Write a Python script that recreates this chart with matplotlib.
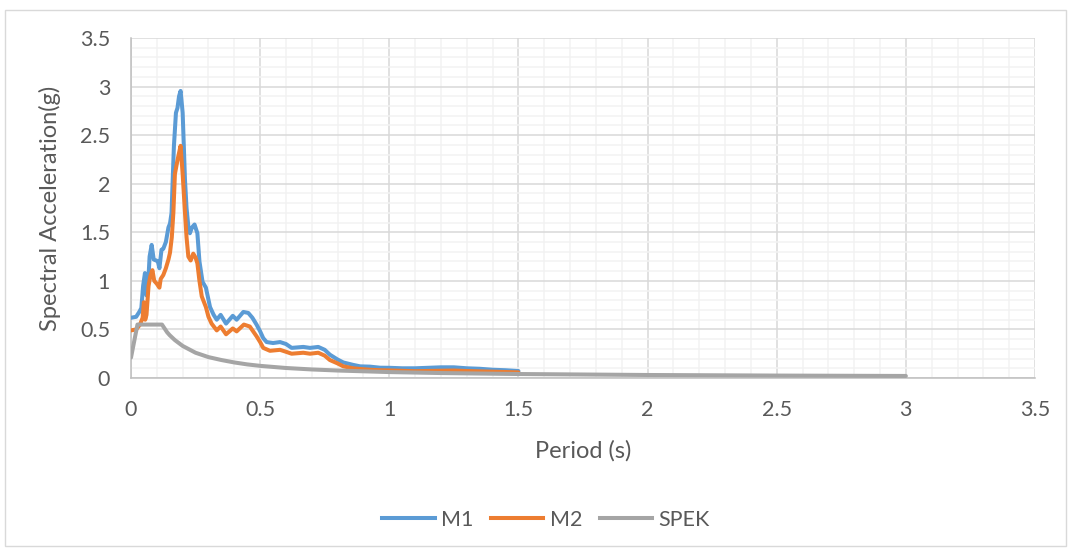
import matplotlib
matplotlib.use("Agg")
import matplotlib.pyplot as plt
from matplotlib.lines import Line2D
from matplotlib.patches import Rectangle
from matplotlib.ticker import MultipleLocator

plt.rcParams['font.family'] = ['Lato', 'DejaVu Sans']

# Record M1 response spectrum
m1_period = [0.0, 0.02, 0.032, 0.04, 0.047, 0.054, 0.06, 0.065, 0.072, 0.08, 0.088,
             0.097, 0.104, 0.11, 0.118, 0.125, 0.135, 0.145, 0.151, 0.157, 0.166,
             0.174, 0.18, 0.186, 0.192, 0.2, 0.209, 0.215, 0.222, 0.228, 0.236,
             0.246, 0.257, 0.265, 0.277, 0.29, 0.306, 0.32, 0.332, 0.347, 0.368,
             0.394, 0.409, 0.435, 0.454, 0.47, 0.486, 0.5, 0.512, 0.525, 0.55,
             0.577, 0.6, 0.622, 0.667, 0.693, 0.725, 0.75, 0.77, 0.8, 0.822, 0.86,
             0.887, 0.925, 0.964, 1.0, 1.05, 1.1, 1.15, 1.2, 1.25, 1.3, 1.35, 1.4,
             1.45, 1.5]
m1_accel = [0.62, 0.63, 0.68, 0.72, 0.95, 1.08, 0.85, 0.9, 1.25, 1.37, 1.22,
            1.21, 1.2, 1.13, 1.32, 1.33, 1.4, 1.55, 1.59, 1.7, 2.38,
            2.73, 2.78, 2.9, 2.955, 2.73, 2.04, 1.75, 1.56, 1.49, 1.55,
            1.58, 1.49, 1.2, 0.99, 0.93, 0.73, 0.65, 0.6, 0.65, 0.56,
            0.64, 0.6, 0.68, 0.67, 0.62, 0.55, 0.48, 0.41, 0.37, 0.36,
            0.37, 0.35, 0.31, 0.32, 0.31, 0.32, 0.29, 0.24, 0.19, 0.16, 0.135,
            0.12, 0.117, 0.106, 0.105, 0.1, 0.1, 0.105, 0.11, 0.11, 0.1, 0.095, 0.085,
            0.08, 0.072]

# Record M2 response spectrum
m2_period = [0.0, 0.02, 0.035, 0.045, 0.05, 0.055, 0.06, 0.068, 0.075, 0.083,
             0.09, 0.1, 0.11, 0.115, 0.125, 0.135, 0.145, 0.151, 0.158, 0.164,
             0.17, 0.177, 0.183, 0.192, 0.2, 0.209, 0.215, 0.222, 0.231, 0.241,
             0.25, 0.257, 0.265, 0.274, 0.29, 0.3, 0.312, 0.332, 0.347, 0.368,
             0.394, 0.409, 0.437, 0.46, 0.486, 0.5, 0.512, 0.538, 0.577, 0.6,
             0.622, 0.667, 0.693, 0.725, 0.75, 0.77, 0.8, 0.822, 0.86, 0.887,
             0.925, 0.964, 1.0, 1.1, 1.2, 1.25, 1.3, 1.4, 1.5]
m2_accel = [0.49, 0.5, 0.55, 0.62, 0.78, 0.6, 0.65, 0.95, 1.05, 1.11,
            1.0, 0.97, 0.93, 1.02, 1.06, 1.13, 1.22, 1.29, 1.45, 1.7,
            2.1, 2.2, 2.28, 2.39, 2.1, 1.7, 1.45, 1.25, 1.21, 1.28,
            1.24, 1.18, 1.0, 0.84, 0.73, 0.63, 0.56, 0.49, 0.53, 0.45,
            0.51, 0.48, 0.55, 0.53, 0.43, 0.37, 0.31, 0.28, 0.29, 0.27,
            0.25, 0.26, 0.25, 0.26, 0.23, 0.185, 0.15, 0.12, 0.1, 0.093,
            0.085, 0.08, 0.078, 0.07, 0.075, 0.077, 0.072, 0.065, 0.058]

# Design spectrum
spek_period = [0.0, 0.025, 0.12, 0.13, 0.14, 0.15, 0.17, 0.2, 0.25, 0.3, 0.35,
               0.4, 0.45, 0.5, 0.6, 0.7, 0.8, 1.0, 1.2, 1.5, 2.0, 2.5, 3.0]
spek_accel = [0.21, 0.55, 0.55, 0.51, 0.47, 0.44, 0.39, 0.33, 0.26, 0.215, 0.185,
              0.16, 0.14, 0.125, 0.103, 0.088, 0.077, 0.061, 0.051, 0.041, 0.031,
              0.025, 0.021]

series_names = ['M1', 'M2', 'SPEK']
series_colors = ['#5B9BD5', '#ED7D31', '#A5A5A5']

x_ticks = [0, 0.5, 1, 1.5, 2, 2.5, 3, 3.5]
y_ticks = [0, 0.5, 1, 1.5, 2, 2.5, 3, 3.5]
x_tick_labels = ['0', '0.5', '1', '1.5', '2', '2.5', '3', '3.5']
y_tick_labels = ['0', '0.5', '1', '1.5', '2', '2.5', '3', '3.5']

W, H = 1076, 554
fig = plt.figure(figsize=(W / 100, H / 100), dpi=100)
ax = fig.add_axes([131 / W, 1 - 378 / H, (1035 - 131) / W, (378 - 38) / H])

text_color = '#595959'
lw = 2.9
for (xs, ys), name, col in zip([(m1_period, m1_accel), (m2_period, m2_accel),
                                (spek_period, spek_accel)],
                               series_names, series_colors):
    ax.plot(xs, ys, color=col, lw=lw, label=name, solid_joinstyle='round',
            solid_capstyle='round', zorder=3)

ax.set_xlim(0, 3.5)
ax.set_ylim(0, 3.5)
ax.set_xticks(x_ticks)
ax.set_xticklabels(x_tick_labels)
ax.set_yticks(y_ticks)
ax.set_yticklabels(y_tick_labels)
ax.xaxis.set_minor_locator(MultipleLocator(0.1))
ax.yaxis.set_minor_locator(MultipleLocator(0.1))
ax.grid(which='minor', color='#F2F2F2', lw=1.1, zorder=0)
ax.grid(which='major', color='#D9D9D9', lw=1.1, zorder=1)
ax.set_axisbelow(True)
ax.tick_params(which='both', length=0, labelsize=15.5, colors=text_color)
ax.tick_params(axis='x', pad=16)
ax.tick_params(axis='y', pad=15)
for side in ['top', 'right']:
    ax.spines[side].set_visible(False)
for side in ['left', 'bottom']:
    ax.spines[side].set_color('#BFBFBF')
    ax.spines[side].set_linewidth(1.1)

fig.text(583 / W, 1 - 451 / H, 'Period (s)', ha='center', va='center',
         fontsize=17, color=text_color)
fig.text(50 / W, 1 - 208 / H, 'Spectral Acceleration(g)', ha='center', va='center',
         rotation=90, fontsize=17, color=text_color)

handles = [Line2D([], [], color=c, lw=lw) for c in series_colors]
fig.legend(handles, series_names, loc='center', bbox_to_anchor=(546 / W, 1 - 520 / H),
           ncol=3, frameon=False, fontsize=15.5, labelcolor=text_color,
           handlelength=2.45, handletextpad=0.3, columnspacing=0.8)

fig.add_artist(Rectangle((5 / W, 1 - 546 / H), (1066 - 5) / W, (546 - 10) / H,
                         transform=fig.transFigure, fill=False,
                         edgecolor='#D9D9D9', lw=1.0))

fig.savefig('out.png', dpi=100, facecolor='white')
